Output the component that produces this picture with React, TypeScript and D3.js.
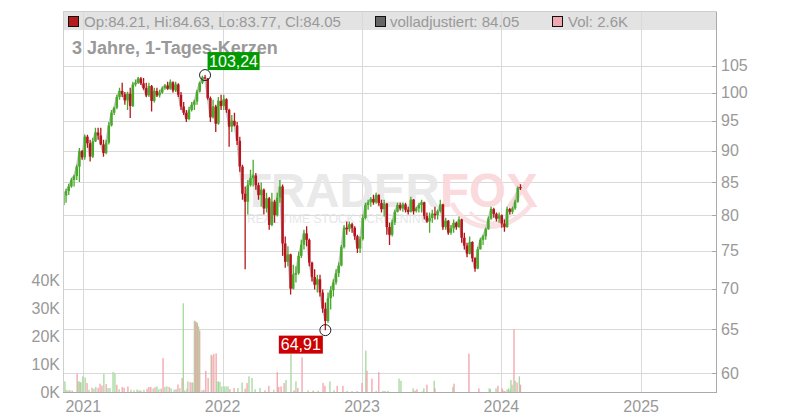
import React from "react";
import * as d3 from "d3";

// Weekly candles (first week starting 2020-11-10)
const OPEN = [81.5,82.9,83.6,84.3,85.3,85.9,87.4,89.9,88.9,92.3,91.2,89.0,91.5,93.0,92.5,91.0,89.6,91.3,94.2,96.4,
97.3,99.2,100.3,99.7,98.6,99.8,97.6,101.5,101.8,102.6,101.7,100.8,99.5,101.2,98.5,100.3,99.5,100.0,100.8,101.3,
100.7,101.9,100.4,101.5,99.6,97.5,96.4,95.3,96.9,97.8,98.4,100.2,101.8,102.8,102.6,99.0,95.6,97.5,94.5,98.5,
97.6,98.8,96.9,94.0,95.0,94.2,91.6,87.4,83.2,82.0,84.5,85.6,86.0,84.5,83.0,83.8,81.0,82.5,78.6,82.0,
80.0,82.6,84.3,76.0,73.5,74.5,70.0,71.8,72.0,74.3,75.8,77.4,76.5,73.4,71.5,70.5,71.2,69.5,67.5,66.0,
68.8,69.8,70.8,72.0,73.0,75.5,78.2,78.0,78.7,78.2,77.0,75.3,76.6,79.6,81.5,81.9,82.4,81.9,83.0,81.8,
80.9,81.7,78.3,77.2,79.0,80.5,81.5,81.0,81.6,80.8,80.5,82.3,80.6,81.0,81.5,81.9,79.9,79.1,79.6,80.2,
80.0,80.6,81.6,78.3,79.2,77.5,78.1,78.9,78.3,79.4,76.8,75.7,74.6,76.2,74.0,72.6,75.2,76.5,77.0,78.0,
79.5,80.9,80.2,79.5,80.0,78.8,78.3,80.9,80.5,81.0,82.0,84.21];
const HIGH = [83.5,83.95,84.7,85.65,86.1,87.7,90.4,90.1,92.6,92.6,91.8,92.1,93.8,93.8,93.8,91.8,91.8,94.8,96.9,97.45,
99.6,100.9,101.8,100.1,100.1,100.9,102.0,102.4,102.9,102.9,102.7,101.8,101.8,101.4,100.9,100.9,100.5,101.1,101.6,102.0,
102.4,102.1,102.0,101.7,100.1,98.3,96.9,97.45,98.3,98.7,100.5,102.0,103.1,103.24,102.7,99.3,98.7,97.8,99.2,99.6,
99.6,99.0,97.1,96.0,96.4,94.8,92.3,87.7,84.3,85.3,86.9,88.5,86.4,84.9,84.9,84.0,83.35,82.7,83.35,82.3,
83.35,85.3,84.6,76.95,75.6,74.6,73.1,72.9,74.9,76.5,77.9,78.4,76.7,73.5,72.5,71.8,71.8,69.9,68.25,69.5,
70.3,71.2,72.5,73.4,75.8,78.6,79.1,79.1,78.9,78.4,77.2,76.95,80.1,81.85,82.3,82.7,83.04,83.35,83.1,82.3,
82.3,81.8,78.9,79.4,80.8,81.85,81.85,81.85,81.85,81.25,82.74,82.4,81.25,81.85,82.3,82.0,80.4,80.4,80.8,81.25,
80.8,82.3,81.7,79.65,79.3,78.6,79.4,79.1,79.8,79.5,77.5,76.1,76.95,76.3,74.1,75.56,76.8,77.2,78.2,79.8,
81.25,81.1,80.4,80.4,80.1,79.4,81.25,81.1,81.25,82.3,84.3,84.63];
const LOW = [81.1,81.85,83.0,84.1,84.3,85.3,85.0,88.5,88.5,90.45,88.2,88.8,91.4,91.8,90.9,89.0,89.4,91.0,94.0,96.0,
97.0,98.7,99.2,97.8,96.9,95.5,97.4,101.1,101.6,101.4,100.5,99.2,99.2,96.6,98.2,99.2,99.1,99.8,100.5,100.5,
100.5,100.0,100.1,99.2,96.9,96.0,94.8,95.1,96.6,96.9,97.8,100.0,101.6,102.4,98.7,94.8,95.4,93.1,94.3,96.9,
96.9,96.4,90.6,93.1,94.0,90.9,86.6,82.3,72.5,80.1,84.3,84.3,83.8,82.3,81.25,80.1,80.4,77.9,78.4,78.9,
79.8,81.85,74.3,72.7,72.9,69.25,69.9,70.8,71.8,74.0,75.15,75.6,72.9,70.9,69.9,69.5,69.0,67.0,64.91,65.8,
67.4,69.0,70.5,71.5,72.9,75.3,77.2,77.65,77.5,76.5,74.7,74.7,76.4,79.4,80.8,81.25,81.55,81.7,81.4,80.4,
79.8,77.2,75.8,76.95,78.6,80.4,80.7,80.5,80.4,80.1,80.4,80.1,80.4,80.4,80.4,79.4,78.9,77.5,78.9,79.4,
79.4,80.4,77.9,77.9,77.2,77.2,77.5,77.9,78.2,76.1,75.15,74.1,74.5,73.5,72.2,72.5,75.15,75.8,76.5,77.9,
79.36,79.65,79.1,78.9,78.2,77.65,78.2,80.1,80.2,80.8,81.85,83.77];
const CLOSE = [82.9,83.6,84.3,85.3,85.9,87.4,89.9,88.9,92.3,91.2,89.0,91.5,93.0,92.5,91.0,89.6,91.3,94.2,96.4,97.3,
99.2,100.3,99.7,98.6,99.8,97.6,101.5,101.8,102.6,101.7,100.8,99.5,101.2,98.5,100.3,99.5,100.0,100.8,101.3,100.7,
101.9,100.4,101.5,99.6,97.5,96.4,95.3,96.9,97.8,98.4,100.2,101.8,102.8,102.6,99.0,95.6,97.5,94.5,98.5,97.6,
98.8,96.9,94.0,95.0,94.2,91.6,87.4,83.2,82.0,84.5,85.6,86.0,84.5,83.0,83.8,81.0,82.5,78.6,82.0,80.0,
82.6,84.3,76.0,73.5,74.5,70.0,71.8,72.0,74.3,75.8,77.4,76.5,73.4,71.5,70.5,71.2,69.5,67.5,66.0,68.8,
69.8,70.8,72.0,73.0,75.5,78.2,78.0,78.7,78.2,77.0,75.3,76.6,79.6,81.5,81.9,82.4,81.9,83.0,81.8,80.9,
81.7,78.3,77.2,79.0,80.5,81.5,81.0,81.6,80.8,80.5,82.3,80.6,81.0,81.5,81.9,79.9,79.1,79.6,80.2,80.0,
80.6,81.6,78.3,79.2,77.5,78.1,78.9,78.3,79.4,76.8,75.7,74.6,76.2,74.0,72.6,75.2,76.5,77.0,78.0,79.5,
80.9,80.2,79.5,80.0,78.8,78.3,80.9,80.5,81.0,82.0,84.1,84.05];

// Daily volume bars: days since 2020-11-09, volume in thousands, 1 = up day
const VOL_DAY = [5,8,13,18,24,37,39,42,45,47,52,58,63,68,76,81,86,92,97,102,107,113,118,123,131,136,141,147,155,160,
170,178,186,194,199,204,212,220,225,230,236,241,246,251,257,262,267,272,278,283,291,296,301,306,312,315,319,325,327,333,
338,340,344,347,350,352,355,358,364,369,374,380,388,390,395,401,403,407,411,416,422,427,432,437,448,458,469,477,482,487,
495,503,516,529,539,552,561,565,571,579,584,597,605,610,615,626,642,655,668,681,686,699,710,718,733,744,757,770,783,793,
796,809,820,827,838,843,851,880,885,917,922,927,943,945,953,972,974,1021,1024,1063,1089,1116,1119,1134,1139,1150,1152,1157,1163,1167,
1171,1173,1176,1181,1184,1189,1195,1198];
const VOL_K = [3.8,0.8,0.6,0.7,0.5,6.5,3.8,3.8,3.4,3.5,5.6,5.2,3.2,0.8,1.5,1.2,1.8,1.5,3.0,2.3,6.4,2.8,1.4,1.4,7.1,6.8,2.6,1.0,1.8,1.5,
2.0,0.8,0.6,0.9,0.6,0.5,0.8,1.2,1.8,1.8,1.3,1.7,2.0,1.0,1.2,12.1,1.8,2.0,1.8,1.3,0.8,1.0,2.7,1.4,5.0,31.7,0.6,1.2,3.8,3.5,
3.4,3.3,25.5,25.2,25.0,24.5,23.4,22.0,0.6,0.8,7.6,5.0,13.3,13.0,13.6,13.8,3.8,3.8,3.6,2.0,2.0,2.0,2.0,1.0,1.4,1.4,3.4,1.2,3.2,5.6,
5.0,1.0,1.4,0.6,2.2,0.8,7.1,1.8,2.0,3.2,4.3,13.6,0.6,3.8,1.4,12.4,0.6,0.5,0.5,3.2,2.2,3.8,0.6,2.2,2.2,0.4,0.3,0.3,3.2,14.8,
7.6,4.8,0.4,7.1,0.4,0.4,0.4,4.8,4.0,1.3,0.5,1.0,0.3,1.3,2.6,4.0,1.3,1.8,3.0,13.7,1.3,1.3,1.1,1.3,2.2,1.3,0.6,0.4,0.9,1.3,
0.8,4.3,2.6,22.4,4.0,3.4,5.6,2.6];
const VOL_UP = [1,1,0,1,0,0,1,1,0,1,1,1,0,1,0,1,1,0,0,0,1,0,1,1,1,1,0,1,0,0,
0,1,1,1,1,0,1,0,0,0,1,0,1,1,0,0,1,1,0,1,1,0,0,1,0,1,1,0,1,0,
0,1,1,0,1,0,1,0,1,0,0,0,1,0,0,0,1,1,1,1,1,1,1,0,0,1,1,0,0,1,
1,1,1,0,0,1,0,0,0,0,1,1,0,1,0,0,1,0,1,0,0,1,1,0,0,1,1,0,0,1,
0,0,1,0,1,1,1,1,1,1,0,0,1,1,0,1,0,1,0,0,0,1,1,1,0,0,0,0,1,1,
1,1,1,0,1,0,1,0];

const PRICE_TICKS = [60, 65, 70, 75, 80, 85, 90, 95, 100, 105];
const VOL_TICKS = [0, 10, 20, 30, 40];
const YEAR_TICKS = [2021, 2022, 2023, 2024, 2025];

const FONT = "'Liberation Sans', Arial, Helvetica, sans-serif";
const GREEN = "#48aa2a";
const RED = "#b8141c";

export default function App() {
  const left = 63, right = 716, top = 11.5, bottom = 392;
  const x = d3.scaleTime().domain([new Date(2020, 10, 9), new Date(2025, 6, 16)]).range([left, right]);
  const y = d3.scaleLog().domain([58.0, 115.9]).range([bottom, top]);
  const v = d3.scaleLinear().domain([0, 40]).range([bottom, bottom - 112]);
  const start = new Date(2020, 10, 10);
  const volStart = new Date(2020, 10, 9);
  const dates = CLOSE.map((_, i) => d3.timeDay.offset(start, 7 * i));

  const closeLine = d3.line<number>().x((_, i) => x(dates[i])).y((c) => y(c))(CLOSE) || "";

  const iMax = d3.maxIndex(HIGH);
  const iMin = d3.minIndex(LOW);
  const maxX = x(dates[iMax]), maxY = y(HIGH[iMax]);
  const minX = x(dates[iMin]), minY = y(LOW[iMin]);
  const fmt = (n: number) => n.toFixed(2).replace(".", ",");

  return (
    <svg width={800} height={420} style={{ position: "absolute", left: 0, top: 0, background: "#fff" }} fontFamily={FONT}>
      <defs>
        <clipPath id="plot"><rect x={left} y={top} width={right - left} height={bottom - top} /></clipPath>
      </defs>
      {/* legend band */}
      <rect x={left} y={top} width={right - left} height={18.5} fill="#e3e3e3" />
      {/* grid */}
      {PRICE_TICKS.map((t) => (
        <line key={"pg" + t} x1={left} x2={right} y1={Math.round(y(t)) + 0.5} y2={Math.round(y(t)) + 0.5} stroke="#d9d9d9" />
      ))}
      {YEAR_TICKS.map((yr) => {
        const xx = Math.round(x(new Date(yr, 0, 1))) + 0.5;
        return <line key={"yg" + yr} x1={xx} x2={xx} y1={top} y2={bottom} stroke="#d9d9d9" />;
      })}
      {/* watermark */}
      <g opacity={0.9}>
        <text x={242} y={207} fontSize={47.5} fontWeight="bold" fill="#e7e7e7">TRADER<tspan fill="#fbd6da">FOX</tspan></text>
        <path d="M452,203 C465,232 505,236 530,206" stroke="#fbdde0" strokeWidth={5} fill="none" />
        <path d="M470,212 C482,226 500,226 512,214" stroke="#fbdde0" strokeWidth={3} fill="none" />
        <text x={247} y={223} fontSize={12} fill="#e4e4e4" textLength={183} lengthAdjust="spacing">REAL TIME STOCK SCREENING</text>
      </g>
      {/* volume */}
      <g clipPath="url(#plot)">
        {VOL_DAY.map((d, i) => {
          const xx = x(d3.timeDay.offset(volStart, d));
          return (
            <rect key={"v" + i} x={xx - 0.65} width={1.3} y={v(VOL_K[i])} height={bottom - v(VOL_K[i])}
              fill={VOL_UP[i] ? "#a4d99c" : "#f2a3ab"} />
          );
        })}
      </g>
      {/* price */}
      <g clipPath="url(#plot)">
        <path d={closeLine} fill="none" stroke="#c6c6c6" strokeWidth={2} />
        {CLOSE.map((c, i) => {
          const o = OPEN[i];
          const xx = x(dates[i]);
          const col = c >= o ? GREEN : RED;
          const y1 = y(Math.max(o, c));
          const y2 = y(Math.min(o, c));
          return (
            <g key={"c" + i}>
              <line x1={xx} x2={xx} y1={y(HIGH[i])} y2={y(LOW[i])} stroke={col} strokeWidth={1.3} />
              <rect x={xx - 1.25} width={2.5} y={y1} height={Math.max(1, y2 - y1)} fill={col} />
            </g>
          );
        })}
      </g>
      {/* frame */}
      <line x1={left + 0.5} x2={left + 0.5} y1={top} y2={bottom} stroke="#cfcfcf" />
      <line x1={left} x2={right} y1={top} y2={top} stroke="#cfcfcf" />
      <line x1={right + 0.5} x2={right + 0.5} y1={top} y2={bottom} stroke="#aaa" />
      <line x1={left} x2={right + 1} y1={bottom + 0.5} y2={bottom + 0.5} stroke="#aaa" />
      {/* right axis */}
      {PRICE_TICKS.map((t) => (
        <g key={"pt" + t}>
          <line x1={right - 4} x2={right} y1={Math.round(y(t)) + 0.5} y2={Math.round(y(t)) + 0.5} stroke="#aaa" />
          <text x={right + 5} y={y(t)} dy="0.35em" fontSize={16} fill="#999">{t}</text>
        </g>
      ))}
      {/* left volume axis */}
      {VOL_TICKS.map((t) => (
        <text key={"vt" + t} x={60} y={v(t)} dy="0.35em" fontSize={16} fill="#999" textAnchor="end">{t}K</text>
      ))}
      {/* bottom axis */}
      {YEAR_TICKS.map((yr) => (
        <text key={"yt" + yr} x={x(new Date(yr, 0, 1))} y={411.5} fontSize={16} fill="#999" textAnchor="middle">{yr}</text>
      ))}
      {/* legend */}
      <rect x={68.5} y={16.5} width={10} height={10} fill="#b71c1c" stroke="#111" />
      <text x={84} y={26.5} fontSize={15} fill="#999">Op:84.21, Hi:84.63, Lo:83.77, Cl:84.05</text>
      <rect x={375.5} y={16.5} width={10} height={10} fill="#666" stroke="#111" />
      <text x={390} y={26.5} fontSize={15} fill="#999">volladjustiert: 84.05</text>
      <rect x={552.5} y={16.5} width={10} height={10} fill="#f0a8b0" stroke="#111" />
      <text x={568} y={26.5} fontSize={15} fill="#999">Vol: 2.6K</text>
      {/* title */}
      <text x={72} y={54} fontSize={18} fontWeight="bold" fill="#999">3 Jahre, 1-Tages-Kerzen</text>
      {/* annotations */}
      <circle cx={maxX} cy={maxY} r={5.5} fill="none" stroke="#222" />
      <rect x={maxX + 2.5} y={maxY - 23} width={52} height={18} fill="#009a00" />
      <text x={maxX + 28.5} y={maxY - 8.5} fontSize={16} fill="#fff" textAnchor="middle">{fmt(HIGH[iMax])}</text>
      <circle cx={minX} cy={minY} r={5.5} fill="none" stroke="#222" />
      <rect x={minX - 46.5} y={minY + 5.5} width={44} height={18} fill="#cc0000" />
      <text x={minX - 24.5} y={minY + 20} fontSize={16} fill="#fff" textAnchor="middle">{fmt(LOW[iMin])}</text>
    </svg>
  );
}
